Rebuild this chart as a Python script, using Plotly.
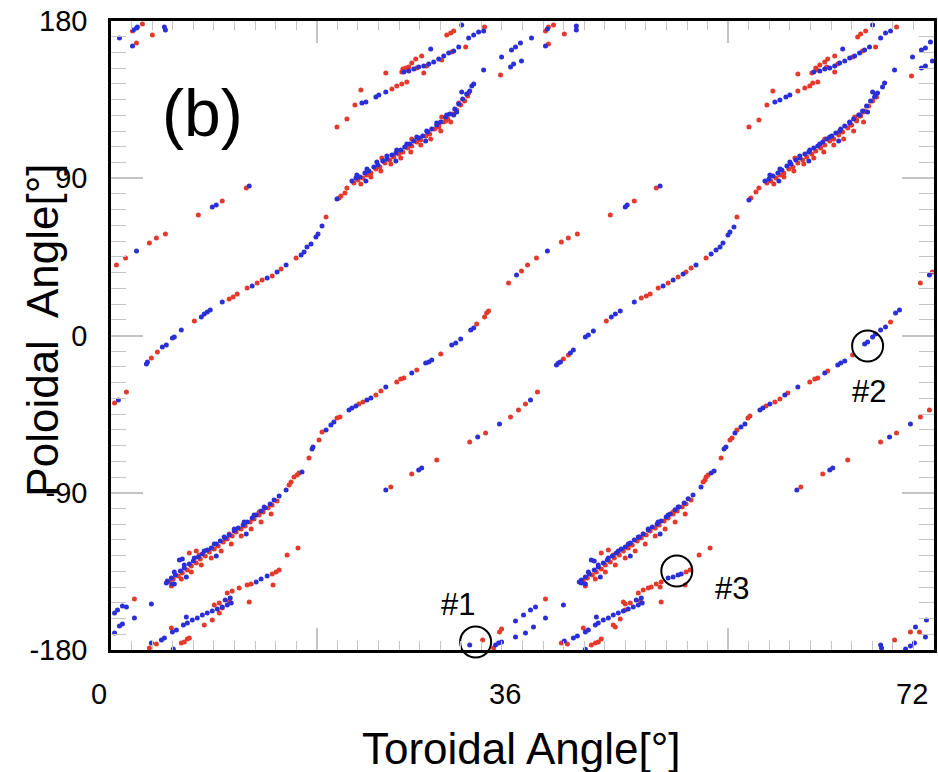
import plotly.graph_objects as go

# ------------------------------------------------------------------
# Data: (toroidal angle [deg], poloidal angle [deg])
# ------------------------------------------------------------------

# ---------- BLUE ----------
blue_corners = [
    (0.74, 170.3), (1.96, 174.8), (2.23, 176.0), (2.31, 176.6), (1.88, 165.7), (4.67, 176.6), (4.76, 174.8),
    (30.68, 177.7), (31.29, 170.3), (31.73, 172.0), (32.16, 173.7), (32.6, 174.3), (32.6, 152.0), (34.17, 159.4),
    (35.04, 163.4), (35.39, 165.1), (35.82, 167.4), (34.95, 153.7), (35.22, 155.4), (35.91, 157.1),
    (36.79, 170.3), (38.01, 165.7), (38.18, 175.4), (40.71, 177.1), (40.71, 174.8),
    (66.63, 177.7), (67.33, 170.3), (67.76, 173.1), (68.2, 174.3), (68.55, 152.0),
    (70.9, 153.1), (71.25, 154.2), (71.86, 157.1), (70.12, 159.4), (70.9, 163.4), (71.25, 164.5), (71.69, 168.0),
]
blue_hooks_upper = [
    (27.97, 164.0), (25.62, 150.8), (26.05, 151.4), (26.49, 152.5), (26.92, 153.7), (27.36, 154.2), (27.8, 155.4),
    (28.23, 156.5), (28.67, 158.3), (29.11, 160.0), (29.54, 161.7), (29.98, 162.8), (30.42, 165.1),
    (64.01, 164.0), (61.48, 150.8), (62.01, 151.4), (62.44, 152.5), (62.88, 153.1), (63.31, 154.2), (63.75, 156.0),
    (64.19, 157.1), (64.62, 158.8), (65.06, 160.0), (65.49, 161.7), (65.93, 163.4), (66.36, 165.1),
]
blue_upper_sparse = [
    (21.95, 133.1), (22.3, 133.6), (23.17, 136.5), (23.43, 137.6), (24.04, 139.4),
    (58.08, 133.6), (58.52, 134.8), (59.04, 136.5), (59.39, 137.6),
]
blue_upper_band = [
    (21.08, 88.4), (21.43, 90.1), (21.78, 90.7), (22.21, 93.0), (22.56, 94.2), (23.0, 96.4), (23.35, 97.6),
    (23.78, 99.9), (24.13, 101.0), (24.57, 103.3), (24.92, 104.5), (25.35, 106.2), (25.7, 107.9), (26.14, 109.6),
    (26.49, 111.3), (26.92, 113.0), (27.27, 114.2), (27.71, 116.5), (28.06, 118.2), (28.5, 120.5), (28.84, 122.2),
    (29.28, 125.1), (29.63, 126.8), (30.07, 129.6), (30.42, 132.5), (30.76, 135.4), (31.11, 138.2), (31.38, 139.9),
    (29.98, 126.2), (30.24, 127.9), (30.68, 139.4), (31.56, 142.8), (31.73, 143.9),
    (21.51, 91.9), (22.39, 95.3), (23.26, 99.3), (24.13, 102.7), (25.0, 106.2), (25.88, 109.6), (26.75, 113.6),
    (27.62, 117.0), (28.5, 121.6), (29.37, 126.2), (22.3, 88.4), (24.92, 99.9), (27.53, 111.3),
    (57.21, 88.4), (57.56, 89.6), (57.91, 91.3), (58.34, 93.0), (58.69, 94.7), (59.13, 97.0), (59.48, 98.2),
    (59.91, 100.4), (60.26, 101.6), (60.7, 103.9), (61.05, 105.0), (61.48, 107.3), (61.83, 108.5), (62.27, 110.7),
    (62.62, 112.5), (63.06, 114.2), (63.41, 115.9), (63.84, 118.2), (64.19, 119.9), (64.62, 122.2), (64.97, 123.9),
    (65.41, 126.2), (65.75, 128.5), (66.1, 131.4), (66.45, 134.2), (66.8, 136.5), (67.06, 138.8),
    (66.19, 127.9), (66.63, 139.4), (66.89, 137.6), (67.5, 142.2), (67.68, 144.5),
    (57.64, 91.9), (58.52, 95.3), (59.39, 99.3), (60.26, 102.7), (61.13, 106.2), (62.01, 109.6), (62.88, 113.6),
    (63.75, 117.0), (64.63, 121.6), (65.5, 126.2), (58.43, 88.4), (61.05, 99.9), (63.66, 111.3),
]
blue_lower_band = [
    (4.93, -140.5), (5.28, -138.8), (5.63, -137.1), (6.07, -134.8), (6.41, -133.1), (6.85, -130.8), (7.2, -129.1),
    (7.64, -126.8), (7.99, -125.1), (8.42, -122.8), (8.77, -121.6), (9.21, -119.3), (9.56, -117.6), (9.99, -115.9),
    (10.34, -114.2), (10.78, -111.9), (11.13, -110.2), (11.56, -108.5), (11.91, -106.7), (12.35, -104.5),
    (12.7, -102.7), (13.13, -100.4), (13.48, -98.7), (13.92, -96.4), (14.27, -94.1), (14.71, -91.9),
    (5.98, -128.5), (6.24, -127.9), (5.37, -142.2), (5.54, -142.2), (4.84, -141.6),
    (5.54, -135.4), (6.41, -131.4), (7.29, -127.3), (8.16, -123.3), (9.03, -119.3), (9.9, -115.3),
    (10.78, -110.7), (11.65, -106.7), (12.52, -102.7), (13.4, -98.2), (6.59, -138.2), (9.21, -126.2),
    (11.83, -113.6),
    (41.15, -140.0), (41.5, -138.2), (41.85, -136.5), (42.28, -134.2), (42.63, -132.5), (43.07, -130.2),
    (43.42, -128.5), (43.86, -126.2), (44.2, -124.5), (44.64, -122.2), (44.99, -121.0), (45.43, -118.7),
    (45.78, -117.0), (46.21, -115.3), (46.56, -113.6), (47.0, -111.3), (47.35, -109.6), (47.78, -107.9),
    (48.13, -106.1), (48.57, -103.9), (48.92, -102.1), (49.35, -99.8), (49.7, -98.1), (50.14, -95.8),
    (50.49, -93.5), (50.92, -91.3),
    (42.02, -128.5), (42.28, -129.1), (41.15, -141.6), (41.5, -142.2), (40.97, -141.1),
    (41.76, -135.4), (42.63, -131.4), (43.51, -127.3), (44.38, -123.3), (45.25, -119.3), (46.13, -115.3),
    (47.0, -110.7), (47.87, -106.7), (48.74, -102.7), (49.61, -98.2), (42.81, -138.2), (45.43, -126.2),
    (48.04, -113.6),
]
blue_main_mid = [
    (15.32, -88.4), (16.71, -78.1), (17.59, -65.0), (17.67, -63.8), (18.81, -54.1), (19.24, -51.2), (19.5, -49.5),
    (20.82, -42.6), (21.08, -41.5), (21.43, -40.3), (22.39, -36.9), (22.74, -35.8), (24.04, -29.5), (26.31, -21.5),
    (27.53, -15.7), (27.8, -15.2), (28.06, -14.0), (29.81, -5.4), (30.16, -4.3), (30.59, -2.0), (31.47, 3.1),
    (31.73, 4.3),
    (51.62, -86.7), (52.5, -78.7), (52.76, -77.6), (53.63, -65.0), (53.8, -63.8), (54.59, -55.8), (55.11, -52.4),
    (55.46, -50.7), (56.77, -42.6), (57.03, -41.5), (57.64, -39.2), (58.95, -34.1), (60.09, -29.5), (62.44, -21.5),
    (63.58, -16.9), (63.84, -15.7), (64.19, -14.6), (65.93, -4.8), (66.19, -3.7), (66.63, -0.8), (66.89, 0.9),
    (67.33, 3.2), (67.76, 4.9), (68.64, 12.9), (68.98, 14.6),
]
blue_s_curve = [
    (3.1, -16.3), (3.19, -15.2), (4.49, -6.6), (4.84, -5.4), (5.37, -1.4), (5.54, -0.9), (6.15, 3.1),
    (7.9, 10.6), (8.16, 12.3), (8.42, 13.5), (8.68, 14.6), (9.73, 19.2), (12.35, 28.3), (13.66, 32.9),
    (14.53, 36.3), (15.32, 40.3), (16.63, 46.1), (16.89, 47.8), (17.15, 50.7), (17.5, 52.4), (17.93, 56.4),
    (18.11, 58.1), (18.46, 62.7), (19.77, 78.1),
    (38.97, -16.9), (39.14, -15.7), (39.32, -15.2), (40.19, -10.0), (40.45, -8.3), (41.5, -0.9), (41.76, 0.3),
    (42.2, 2.6), (43.77, 10.6), (44.12, 12.3), (44.55, 14.0), (45.78, 19.2), (48.3, 28.3), (49.18, 31.8),
    (50.05, 35.2), (51.18, 40.3), (52.5, 46.6), (52.93, 48.9), (53.28, 50.7), (53.54, 52.9), (53.98, 57.5),
    (54.15, 59.2), (54.5, 62.1), (55.81, 77.6),
]
blue_strand_b = [
    (2.23, 48.4), (8.86, 73.5), (9.21, 74.7), (12.09, 85.6),
    (35.48, 34.6), (38.18, 48.4), (44.99, 73.5), (45.16, 74.7), (48.04, 85.6), (71.6, 34.6),
]
blue_strand_c = [
    (0.65, -36.9), (24.04, -88.4), (26.92, -77.0), (27.18, -75.8), (32.08, -58.1), (33.99, -50.7), (36.7, -36.9),
    (60.0, -88.4), (62.88, -77.0), (63.14, -75.8), (68.11, -58.1), (69.94, -50.7),
]
blue_hooks_lower = [
    (12.7, -141.1), (13.13, -139.4), (13.66, -137.6),
    (10.52, -153.1), (10.17, -154.2), (9.73, -155.4), (9.3, -156.5), (8.86, -157.7), (8.42, -158.8),
    (7.99, -160.0), (7.55, -161.7), (7.11, -162.8), (6.68, -164.5), (6.33, -165.7), (6.59, -161.1),
    (9.99, -151.4), (10.43, -150.2),
    (48.74, -138.8), (49.18, -138.2), (49.61, -137.1), (49.88, -136.5),
    (46.47, -153.1), (46.13, -154.2), (45.69, -155.4), (45.25, -156.5), (44.82, -157.7), (44.38, -158.8),
    (43.94, -160.0), (43.51, -161.7), (43.07, -162.8), (42.63, -164.5), (42.37, -165.7), (42.46, -161.1),
    (45.95, -151.4), (46.39, -150.2),
]
blue_bottom = [
    (0.31, -158.8), (0.57, -157.1), (1.0, -154.8), (1.35, -155.4), (3.53, -153.7), (0.31, -170.3), (0.74, -166.2),
    (1.0, -165.1), (2.05, -161.7), (3.53, -176.0), (4.41, -174.3), (4.67, -173.1), (5.37, -169.7), (5.72, -168.6),
    (5.45, -179.4),
    (31.38, -177.1), (33.64, -177.1), (33.91, -176.0), (34.17, -175.4),
    (35.39, -163.4), (36.09, -160.0), (36.7, -157.1), (37.14, -155.4), (39.58, -154.2), (35.39, -172.6),
    (36.26, -170.3), (36.96, -166.8), (38.01, -161.7), (39.66, -174.9), (40.45, -173.1), (40.8, -172.0),
    (41.5, -169.7), (41.76, -168.6), (41.5, -179.6),
    (71.34, -162.8), (70.38, -166.8), (71.25, -172.6), (70.29, -176.0), (69.94, -177.7), (69.51, -179.4),
    (67.33, -177.1), (67.41, -178.9),
]

# ---------- RED ----------
red_corners = [
    (1.88, 174.3), (2.75, 178.3), (2.23, 167.4), (3.62, 172.0),
    (29.37, 172.0), (29.72, 173.1), (29.98, 174.3), (32.68, 176.6), (34.08, 149.1),
    (38.01, 174.3), (38.27, 176.6), (38.71, 177.7), (38.27, 166.8), (39.66, 172.6),
    (65.32, 170.8), (65.58, 172.6), (66.02, 174.3), (68.72, 176.6), (70.03, 148.5),
]
red_hooks_upper = [
    (25.44, 150.8), (25.79, 153.1), (26.05, 153.7), (26.31, 156.0), (26.66, 158.3), (27.18, 160.0), (27.36, 150.2),
    (25.88, 152.0), (26.75, 153.1), (27.62, 154.2), (28.93, 157.7), (29.81, 162.3), (31.03, 165.1), (25.53, 152.5),
    (61.31, 150.2), (61.66, 153.1), (62.01, 154.8), (62.44, 156.5), (62.7, 158.3), (63.31, 160.0), (63.31, 150.8),
    (60.09, 149.7), (61.74, 152.0), (62.62, 153.7), (63.58, 155.4), (64.88, 159.4), (65.75, 162.8), (66.89, 165.1),
]
red_upper_sparse = [
    (19.77, 119.3), (20.64, 123.9), (21.34, 131.9), (21.86, 140.5), (24.57, 141.1), (25.0, 142.8), (25.44, 143.9),
    (25.88, 145.1), (24.04, 150.2),
    (55.81, 119.3), (56.68, 123.3), (57.38, 131.9), (57.9, 139.9), (60.09, 139.9), (60.7, 141.7), (61.13, 142.8),
    (61.39, 144.5), (61.83, 145.1),
]
red_upper_band = [
    (21.25, 87.3), (21.6, 89.0), (22.04, 90.1), (22.39, 91.9), (22.74, 93.0), (23.17, 95.3), (23.52, 96.4),
    (23.96, 98.7), (24.39, 100.4), (24.74, 102.2), (25.18, 103.9), (25.53, 105.0), (25.96, 107.3), (26.31, 108.5),
    (26.75, 110.7), (27.1, 111.9), (27.54, 114.2), (27.88, 115.3), (28.32, 118.2), (28.67, 119.3), (29.11, 122.2),
    (29.46, 123.9), (29.89, 126.8), (30.24, 129.1), (30.59, 131.9), (30.94, 134.2), (31.2, 137.1),
    (28.67, 120.5), (29.28, 122.8), (30.42, 133.1), (31.29, 138.8),
    (21.86, 86.7), (22.74, 90.7), (23.61, 94.2), (24.48, 98.2), (25.35, 101.6), (26.23, 105.0), (27.1, 109.0),
    (27.97, 112.5), (28.85, 117.0), (29.72, 122.2), (23.69, 101.6), (26.31, 112.5), (28.93, 125.1),
    (57.38, 87.3), (57.73, 88.4), (58.17, 90.1), (58.52, 91.9), (58.86, 93.0), (59.3, 95.3), (59.65, 96.4),
    (60.09, 98.7), (60.52, 100.4), (60.87, 102.2), (61.31, 103.9), (61.66, 105.6), (62.09, 107.3), (62.44, 109.0),
    (62.88, 111.3), (63.23, 112.5), (63.66, 114.8), (64.01, 116.5), (64.45, 118.8), (64.8, 120.5), (65.23, 123.3),
    (65.58, 125.6), (65.93, 128.5), (66.28, 131.4), (66.63, 134.2), (66.98, 136.5),
    (65.84, 127.9), (65.23, 122.8), (64.71, 120.5),
    (57.99, 86.7), (58.87, 90.7), (59.74, 94.2), (60.61, 98.2), (61.48, 101.6), (62.36, 105.0), (63.23, 109.0),
    (64.1, 112.5), (64.97, 117.0), (65.84, 122.2), (59.83, 101.6), (62.44, 112.5), (65.06, 125.1),
]
red_lower_band = [
    (5.11, -141.1), (5.45, -139.4), (5.89, -137.6), (6.24, -135.9), (6.68, -134.2), (7.03, -131.9), (7.46, -130.2),
    (7.81, -127.9), (8.25, -126.2), (8.6, -123.9), (9.03, -122.2), (9.38, -120.5), (9.82, -118.2), (10.17, -116.5),
    (10.6, -114.8), (10.95, -112.5), (11.39, -110.7), (11.74, -109.0), (12.17, -106.7), (12.52, -105.0),
    (12.96, -102.7), (13.31, -101.0), (13.75, -98.7), (14.1, -97.0), (14.53, -94.7),
    (6.85, -124.5), (7.46, -123.3),
    (5.28, -143.4), (6.15, -139.4), (7.03, -135.4), (7.9, -131.4), (8.77, -127.3), (9.64, -123.3),
    (10.52, -119.3), (11.39, -114.8), (12.26, -110.7), (13.13, -106.7), (14.01, -102.2), (7.72, -125.6),
    (10.34, -113.6), (12.96, -101.0),
    (41.32, -140.5), (41.67, -138.8), (42.11, -137.1), (42.46, -135.4), (42.9, -133.6), (43.25, -131.3),
    (43.68, -129.6), (44.03, -127.3), (44.47, -125.6), (44.82, -123.3), (45.25, -121.6), (45.6, -119.9),
    (46.04, -117.6), (46.39, -115.9), (46.82, -114.2), (47.17, -111.9), (47.61, -110.2), (47.96, -108.5),
    (48.39, -106.1), (48.74, -104.4), (49.18, -102.1), (49.53, -100.4), (49.97, -98.1), (50.31, -96.4),
    (50.75, -94.1),
    (42.89, -124.5), (43.51, -122.8),
    (41.5, -143.4), (42.37, -139.4), (43.25, -135.4), (44.12, -131.4), (44.99, -127.3), (45.86, -123.3),
    (46.74, -119.3), (47.61, -114.8), (48.48, -110.7), (49.35, -106.7), (50.23, -102.2), (43.94, -125.6),
    (46.56, -113.6), (49.18, -101.0),
]
red_main_mid = [
    (15.58, -85.6), (15.75, -83.8), (16.01, -81.0), (16.28, -79.8), (16.45, -78.7), (17.32, -70.1), (18.2, -59.8),
    (18.46, -55.2), (19.77, -47.2), (20.03, -46.6), (21.69, -39.2), (22.04, -38.1), (23.17, -34.1), (23.61, -31.8),
    (25.0, -26.6), (25.35, -24.9), (25.62, -24.3), (26.75, -19.7), (28.85, -10.6), (31.99, 6.6), (32.68, 10.6),
    (32.86, 12.9), (33.03, 14.0),
    (51.8, -83.8), (51.97, -82.7), (52.06, -81.0), (52.23, -79.8), (53.37, -70.1), (54.15, -59.8), (54.33, -58.7),
    (54.76, -54.1), (55.72, -47.2), (55.9, -46.1), (57.3, -40.3), (58.08, -38.1), (58.52, -36.3), (59.21, -32.9),
    (61.13, -26.6), (61.57, -24.9), (61.83, -24.3), (62.7, -20.3), (64.88, -11.2), (68.2, 7.7),
]
red_s_curve = [
    (3.53, -12.9), (4.06, -9.4), (7.29, 8.3), (10.34, 20.9), (10.69, 22.0), (11.04, 23.8), (11.91, 27.2),
    (12.79, 30.0), (13.22, 31.8), (14.1, 34.1), (14.88, 38.1), (16.19, 44.4), (18.81, 67.8), (19.94, 78.7),
    (20.12, 79.8), (20.47, 81.6), (20.64, 84.4),
    (39.58, -13.4), (40.01, -11.2), (43.33, 8.3), (46.39, 21.5), (46.83, 22.6), (47.17, 23.8), (47.87, 27.2),
    (48.74, 30.0), (49.61, 33.5), (50.31, 36.3), (50.75, 38.6), (52.06, 44.4), (54.76, 67.8), (55.98, 78.7),
    (56.42, 82.1), (56.68, 84.4),
]
red_strand_b = [
    (0.48, 40.4), (1.27, 44.4), (3.36, 52.9), (3.97, 55.8), (4.76, 58.1), (7.64, 69.0), (9.73, 77.0), (11.83, 84.4),
    (34.78, 30.0), (35.91, 36.9), (36.44, 40.4), (37.22, 44.4), (39.4, 53.5), (40.01, 55.8), (40.8, 58.1),
    (43.68, 69.0), (45.78, 77.0), (47.7, 84.4), (70.81, 30.0), (71.86, 36.3),
]
red_strand_c = [
    (0.31, -38.6), (1.35, -32.3), (24.48, -86.7), (26.31, -79.3), (28.5, -71.3), (31.38, -61.0), (32.77, -55.8),
    (34.95, -46.6), (35.65, -42.6), (36.26, -39.2), (37.31, -32.3),
    (60.35, -86.7), (62.27, -79.3), (64.45, -71.3), (67.33, -61.0), (68.72, -55.8), (70.81, -46.6), (71.6, -42.6),
]
red_hooks_lower = [
    (10.17, -147.4), (10.6, -146.2), (11.21, -144.5), (11.91, -142.8), (12.26, -142.2), (14.1, -136.5),
    (14.44, -135.4), (14.71, -134.2), (15.41, -125.6), (16.36, -121.6), (14.18, -142.8), (12.09, -152.5),
    (9.03, -154.2), (9.47, -153.1), (9.73, -156.0), (9.47, -158.8), (8.86, -162.8), (8.16, -165.7), (10.34, -152.0),
    (46.13, -147.4), (46.56, -145.7), (47.0, -144.5), (47.26, -143.9), (47.7, -142.2), (48.13, -141.1),
    (50.31, -135.4), (50.66, -134.2), (51.45, -125.6), (52.41, -121.6), (50.23, -142.8), (48.13, -152.5),
    (48.04, -143.9),
    (44.99, -153.7), (45.43, -153.1), (44.99, -157.1), (44.55, -162.3), (43.94, -165.7), (44.12, -166.8),
    (44.82, -152.5), (46.3, -152.0),
]
red_bottom = [
    (2.05, -150.8), (3.97, -176.6), (3.36, -178.9), (5.28, -167.4), (6.15, -176.0), (6.41, -175.4), (6.68, -173.7),
    (6.85, -173.1),
    (32.51, -174.3), (33.47, -178.9), (33.99, -169.7), (34.17, -168.0),
    (38.01, -150.8), (39.4, -176.0), (39.93, -176.6), (41.32, -167.4), (42.02, -177.1), (42.37, -176.0),
    (42.63, -175.4), (42.89, -173.7),
    (69.94, -169.7), (70.73, -169.7), (68.55, -174.3),
]

# marked field lines
marker_labels = ["#1", "#2", "#3"]
marker_x = [31.9, 66.19, 49.5]
marker_y = [-175.4, -6.0, -134.8]

# axis tick text
x_tick_labels = ["0", "36", "72"]
y_tick_vals = [-180, -90, 0, 90, 180]
y_tick_text = ["-180", "-90", "0", "90", "180"]

RED = "#e5392c"
BLUE = "#2a2fd8"
FONT = "Liberation Sans, Arial, Helvetica, sans-serif"


def collect(*groups):
    xs, ys = [], []
    for g in groups:
        for x, y in g:
            xs.append(x)
            ys.append(y)
    return xs, ys


rx, ry = collect(red_corners, red_hooks_upper, red_upper_sparse, red_upper_band, red_lower_band,
                 red_main_mid, red_s_curve, red_strand_b, red_strand_c, red_hooks_lower, red_bottom)
bx, by = collect(blue_corners, blue_hooks_upper, blue_upper_sparse, blue_upper_band, blue_lower_band,
                 blue_main_mid, blue_s_curve, blue_strand_b, blue_strand_c, blue_hooks_lower, blue_bottom)

fig = go.Figure()
fig.add_trace(go.Scatter(x=rx, y=ry, mode="markers", marker=dict(color=RED, size=5, line=dict(width=0)),
                         showlegend=False, hoverinfo="skip"))
fig.add_trace(go.Scatter(x=bx, y=by, mode="markers", marker=dict(color=BLUE, size=5, line=dict(width=0)),
                         showlegend=False, hoverinfo="skip"))
fig.add_trace(go.Scatter(x=marker_x, y=marker_y, mode="markers", cliponaxis=False,
                         marker=dict(symbol="circle-open", size=31, color="black", line=dict(width=2, color="black")),
                         showlegend=False, hoverinfo="skip"))

TICKC = "#c4c4c4"
fig.update_xaxes(range=[0, 72], showgrid=False, zeroline=False,
                 showline=True, linecolor="black", linewidth=2.5, mirror="ticks",
                 tickmode="array", tickvals=[18, 54], ticks="inside", ticklen=22, tickwidth=1.5, tickcolor=TICKC,
                 showticklabels=False,
                 minor=dict(tickmode="linear", tick0=0, dtick=1.8, ticks="inside", ticklen=9, tickwidth=1.2,
                            tickcolor=TICKC, showgrid=False))
fig.update_yaxes(range=[-180, 180], showgrid=False, zeroline=False,
                 showline=True, linecolor="black", linewidth=2.5, mirror="ticks",
                 tickmode="array", tickvals=y_tick_vals, ticktext=y_tick_text,
                 ticks="inside", ticklen=32, tickwidth=1.5, tickcolor=TICKC,
                 tickfont=dict(family=FONT, size=29, color="black"), ticklabelstandoff=15,
                 minor=dict(tickmode="linear", tick0=0, dtick=9, ticks="inside", ticklen=15, tickwidth=1.2,
                            tickcolor=TICKC, showgrid=False))

W0, W = 111.5, 825.0
H0, H = 650.0, 629.0


def px(xp):
    return (xp - W0) / W


def py(yp):
    return (H0 - yp) / H


annotations = []
for lab, xp in zip(x_tick_labels, [99, 506, 914]):
    annotations.append(dict(text=lab, x=px(xp), y=py(694), xref="paper", yref="paper", showarrow=False,
                            xanchor="center", yanchor="middle", font=dict(family=FONT, size=29, color="black")))
annotations.append(dict(text="Toroidal Angle[°]", x=px(522), y=py(748), xref="paper", yref="paper",
                        showarrow=False, xanchor="center", yanchor="middle",
                        font=dict(family=FONT, size=44, color="black")))
annotations.append(dict(text="Poloidal\u00a0 Angle[°]", x=px(42), y=py(330), xref="paper", yref="paper",
                        showarrow=False, xanchor="center", yanchor="middle", textangle=-90,
                        font=dict(family=FONT, size=44, color="black")))
annotations.append(dict(text="(b)", x=px(203), y=py(113), xref="paper", yref="paper", showarrow=False,
                        xanchor="center", yanchor="middle", font=dict(family=FONT, size=66, color="black")))
for lab, (xp, yp) in zip(marker_labels, [(459, 604), (871, 391), (734, 588)]):
    annotations.append(dict(text=lab, x=px(xp), y=py(yp), xref="paper", yref="paper", showarrow=False,
                            xanchor="center", yanchor="middle", font=dict(family=FONT, size=31, color="black")))

fig.update_layout(width=938, height=772, margin=dict(l=111, r=1, t=21, b=122),
                  paper_bgcolor="white", plot_bgcolor="white", annotations=annotations)

fig.write_html("out.html")
